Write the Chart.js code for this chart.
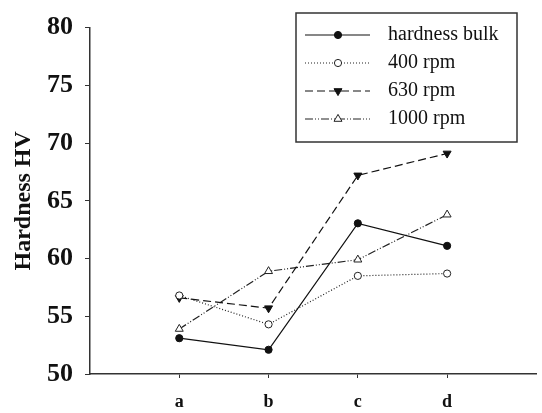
<!DOCTYPE html>
<html>
<head>
<meta charset="utf-8">
<script src="https://cdn.jsdelivr.net/npm/chart.js@4"></script>
<style>
  html, body { margin: 0; padding: 0; background: #fff; }
  #wrap { width: 542px; height: 413px; }
</style>
</head>
<body>
<div id="wrap"><canvas id="hardChart" width="542" height="413"></canvas></div>
<script>
// sample positions along the x axis
const categories = ["a", "b", "c", "d"];

// Hardness HV
const bulkValues = [53.1, 52.1, 63.05, 61.1];
const rpm400Values = [56.8, 54.3, 58.5, 58.7];
const rpm630Values = [56.6, 55.7, 67.2, 69.1];
const rpm1000Values = [53.9, 58.9, 59.9, 63.8];

const yTicks = [50, 55, 60, 65, 70, 75, 80];

const serif = "'Liberation Serif', 'Times New Roman', serif";

function toPoints(values) {
  return values.map((v, i) => ({ x: i + 1, y: v }));
}

const datasets = [
  {
    label: "hardness bulk",
    data: toPoints(bulkValues),
    borderColor: "#111",
    borderWidth: 1.2,
    borderDash: [],
    pointStyle: "circle",
    pointRadius: 3.6,
    pointBackgroundColor: "#111",
    pointBorderColor: "#111",
    pointBorderWidth: 1,
    pointRotation: 0,
  },
  {
    label: "400 rpm",
    data: toPoints(rpm400Values),
    borderColor: "#222",
    borderWidth: 1.2,
    borderDash: [1, 2],
    pointStyle: "circle",
    pointRadius: 3.6,
    pointBackgroundColor: "#fff",
    pointBorderColor: "#222",
    pointBorderWidth: 1,
    pointRotation: 0,
  },
  {
    label: "630 rpm",
    data: toPoints(rpm630Values),
    borderColor: "#111",
    borderWidth: 1.2,
    borderDash: [8, 4],
    pointStyle: "triangle",
    pointRadius: 4.6,
    pointBackgroundColor: "#111",
    pointBorderColor: "#111",
    pointBorderWidth: 1,
    pointRotation: 180,
  },
  {
    label: "1000 rpm",
    data: toPoints(rpm1000Values),
    borderColor: "#222",
    borderWidth: 1.2,
    borderDash: [8, 2, 1, 2, 1, 2],
    pointStyle: "triangle",
    pointRadius: 4.6,
    pointBackgroundColor: "#fff",
    pointBorderColor: "#222",
    pointBorderWidth: 1,
    pointRotation: 0,
  },
];

// boxed legend with line + marker samples, like the original plot
const boxLegend = {
  id: "boxLegend",
  afterDraw(chart) {
    const ctx = chart.ctx;
    const x0 = 296, y0 = 13, w = 221, h = 129;
    ctx.save();
    ctx.fillStyle = "#fff";
    ctx.fillRect(x0, y0, w, h);
    ctx.strokeStyle = "#333";
    ctx.lineWidth = 1.5;
    ctx.strokeRect(x0, y0, w, h);

    chart.data.datasets.forEach((ds, i) => {
      const y = 35 + i * 28;
      ctx.strokeStyle = ds.borderColor;
      ctx.lineWidth = ds.borderWidth;
      ctx.setLineDash(ds.borderDash);
      ctx.beginPath();
      ctx.moveTo(305, y);
      ctx.lineTo(370, y);
      ctx.stroke();
      ctx.setLineDash([]);

      ctx.fillStyle = ds.pointBackgroundColor;
      ctx.strokeStyle = ds.pointBorderColor;
      ctx.lineWidth = ds.pointBorderWidth;
      Chart.helpers.drawPoint(ctx, {
        pointStyle: ds.pointStyle,
        rotation: ds.pointRotation,
        radius: ds.pointRadius,
        borderWidth: ds.pointBorderWidth,
      }, 338, y);

      ctx.fillStyle = "#111";
      ctx.font = "20px " + serif;
      ctx.textBaseline = "middle";
      ctx.textAlign = "left";
      ctx.fillText(ds.label, 388, y);
    });
    ctx.restore();
  },
};

const ctx = document.getElementById("hardChart");

new Chart(ctx, {
  type: "line",
  data: { datasets: datasets },
  options: {
    responsive: false,
    animation: false,
    layout: { padding: { top: 23, right: 1, left: 0, bottom: 0 } },
    plugins: {
      legend: { display: false },
      tooltip: { enabled: false },
    },
    scales: {
      x: {
        type: "linear",
        min: 0,
        max: 5,
        afterBuildTicks: (scale) => {
          scale.ticks = categories.map((c, i) => ({ value: i + 1 }));
        },
        afterFit: (scale) => { scale.height = 39; },
        grid: {
          drawOnChartArea: false,
          drawTicks: true,
          tickLength: 4,
          tickColor: "#333",
        },
        border: { color: "#333", width: 1.5 },
        ticks: {
          autoSkip: false,
          maxRotation: 0,
          padding: 14,
          color: "#111",
          font: { family: serif, size: 18, weight: "bold" },
          callback: (value) => categories[value - 1] || "",
        },
      },
      y: {
        min: 50,
        max: 80,
        afterBuildTicks: (scale) => {
          scale.ticks = yTicks.map((v) => ({ value: v }));
        },
        afterFit: (scale) => { scale.width = 90; },
        grid: {
          drawOnChartArea: false,
          drawTicks: true,
          tickLength: 5,
          tickColor: "#333",
        },
        border: { color: "#333", width: 1.5 },
        ticks: {
          padding: 12,
          color: "#111",
          font: { family: serif, size: 26, weight: "bold" },
        },
        title: {
          display: true,
          text: "Hardness HV",
          color: "#111",
          padding: { top: 9, bottom: 0 },
          font: { family: serif, size: 24, weight: "bold" },
        },
      },
    },
  },
  plugins: [boxLegend],
});
</script>
</body>
</html>
